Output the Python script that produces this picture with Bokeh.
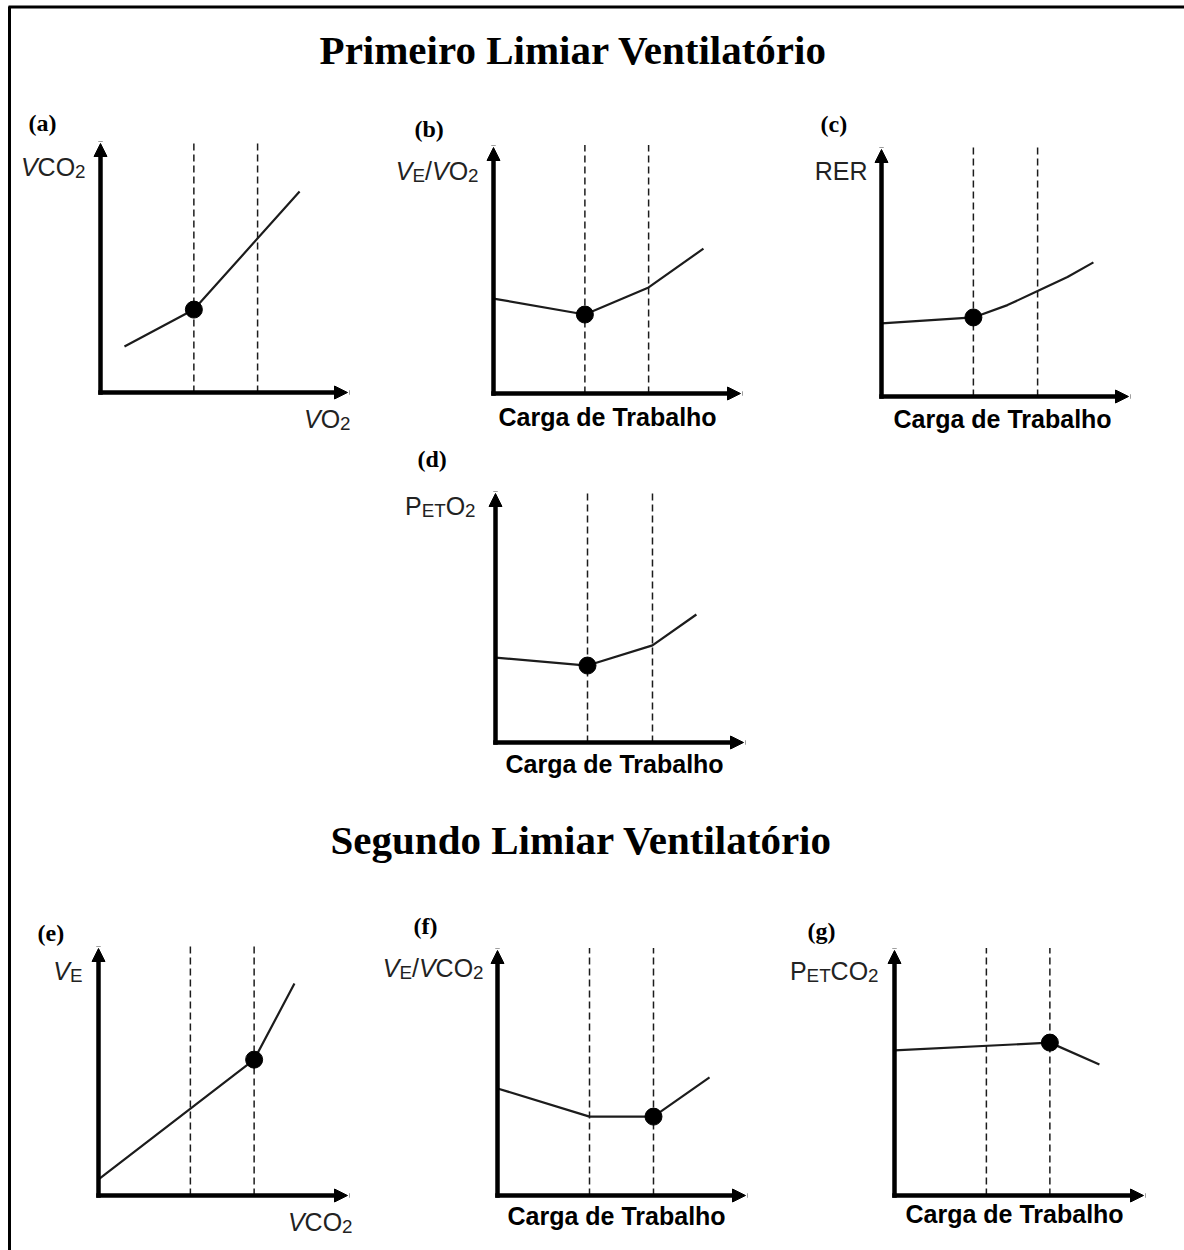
from bokeh.plotting import figure
from bokeh.models import Range1d, Arrow, NormalHead
from bokeh.core.properties import value
from bokeh.embed import file_html
from bokeh.resources import INLINE

# ---------------- data ----------------
titles = ["Primeiro Limiar Ventilatório", "Segundo Limiar Ventilatório"]
panel_ids = ["a", "b", "c", "d", "e", "f", "g"]
panel_tags = ["(a)", "(b)", "(c)", "(d)", "(e)", "(f)", "(g)"]
workload_label = "Carga de Trabalho"

# curves (axis units: each axis runs 0..10 up to the arrow tip)
a_x = [0.97, 3.78, 8.06]
a_y = [1.85, 3.33, 8.07]
b_x = [0.0, 3.70, 6.28, 8.50]
b_y = [3.86, 3.21, 4.31, 5.89]
c_x = [0.0, 1.86, 3.72, 5.10, 6.32, 7.53, 8.58]
c_y = [2.96, 3.08, 3.20, 3.70, 4.27, 4.84, 5.43]
d_x = [0.0, 3.71, 6.33, 8.10]
d_y = [3.41, 3.09, 3.90, 5.14]
e_x = [0.0, 6.25, 7.87]
e_y = [0.65, 5.50, 8.58]
f_x = [0.0, 3.71, 6.29, 8.55]
f_y = [4.37, 3.22, 3.22, 4.82]
g_x = [0.0, 6.24, 8.23]
g_y = [5.92, 6.24, 5.35]

# index of the highlighted (threshold) point in each curve
marker_index = {"a": 1, "b": 1, "c": 2, "d": 1, "e": 1, "f": 2, "g": 1}

# vertical dashed threshold lines (x in axis units)
a_thr = [3.78, 6.36]
b_thr = [3.70, 6.28]
c_thr = [3.72, 6.32]
d_thr = [3.71, 6.33]
e_thr = [3.69, 6.25]
f_thr = [3.71, 6.29]
g_thr = [3.69, 6.24]

curves = {"a": (a_x, a_y), "b": (b_x, b_y), "c": (c_x, c_y), "d": (d_x, d_y),
          "e": (e_x, e_y), "f": (f_x, f_y), "g": (g_x, g_y)}
thresholds = {"a": a_thr, "b": b_thr, "c": c_thr, "d": d_thr,
              "e": e_thr, "f": f_thr, "g": g_thr}

# axis label segments: (text, kind) kind: n normal, i italic, s subscript
y_labels = {
    "a": [("V", "i"), ("CO", "n"), ("2", "s")],
    "b": [("V", "i"), ("E", "s"), ("/", "n"), ("V", "i"), ("O", "n"), ("2", "s")],
    "c": [("RER", "n")],
    "d": [("P", "n"), ("ET", "s"), ("O", "n"), ("2", "s")],
    "e": [("V", "i"), ("E", "s")],
    "f": [("V", "i"), ("E", "s"), ("/", "n"), ("V", "i"), ("CO", "n"), ("2", "s")],
    "g": [("P", "n"), ("ET", "s"), ("CO", "n"), ("2", "s")],
}
x_labels = {
    "a": [("V", "i"), ("O", "n"), ("2", "s")],
    "e": [("V", "i"), ("CO", "n"), ("2", "s")],
}

# ---------------- layout (page pixels) ----------------
W, H = 1184, 1250
TDY = -12          # global vertical nudge for text baselines
AXIS_MAX = 10.0
DASH_TOP = 10.1

# corner x, corner y, x-axis length, y-axis length
geom = {
    "a": (100, 392, 247, 249),
    "b": (493, 393, 247, 246),
    "c": (881, 396, 247, 247),
    "d": (495, 742, 248, 249),
    "e": (98, 1195, 249, 247),
    "f": (497, 1195, 248, 245),
    "g": (894, 1195, 249, 245),
}
tag_pos = {"a": (28, 134), "b": (414, 140), "c": (820, 135), "d": (417, 470),
           "e": (37, 944), "f": (413, 937), "g": (807, 942)}
ylab_pos = {"a": (85, 178), "b": (478, 182), "c": (867, 182), "d": (475, 517),
            "e": (82, 982), "f": (483, 979), "g": (878, 982)}
xlab_pos = {"a": (350, 430), "b": (498, 428), "c": (893, 430), "d": (505, 775),
            "e": (352, 1233), "f": (507, 1227), "g": (905, 1225)}
title_pos = [(573, 61), (581, 851)]

INK = "#1c1c1c"
TXT = "#222222"

p = figure(width=W, height=H, x_range=Range1d(0, W), y_range=Range1d(H, 0),
           toolbar_location=None, output_backend="svg",
           x_axis_location=None, y_axis_location=None, min_border=0,
           outline_line_color=None, background_fill_color="white",
           border_fill_color="white")
p.grid.visible = False

# page frame (top and left rules)
p.segment(x0=[9, 8], y0=[6, 6.5], x1=[9, W], y1=[H, 6.5],
          line_color="black", line_width=3)

# titles
p.text(x=[t[0] for t in title_pos], y=[t[1] + TDY for t in title_pos],
       text=titles, text_font=value("Liberation Serif"), text_font_style="bold",
       text_font_size="41px", text_align="center", text_baseline="alphabetic",
       text_color="black")

ADV = {"V": 0.667, "C": 0.722, "O": 0.778, "E": 0.667, "T": 0.611,
       "P": 0.667, "R": 0.722, "/": 0.278, "2": 0.556}


def rich(segs, x, y, size, align):
    sub = 0.75 * size
    widths = [sum(ADV.get(ch, 0.6) for ch in t) * (sub if k == "s" else size)
              for t, k in segs]
    cx = x - sum(widths) if align == "right" else x
    for (t, k), w in zip(segs, widths):
        fs = sub if k == "s" else size
        dy = 0.2 * size if k == "s" else 0
        p.text(x=[cx], y=[y + dy + TDY], text=[t],
               text_font=value("Liberation Sans"),
               text_font_style="italic" if k == "i" else "normal",
               text_font_size=f"{fs:.1f}px", text_align="left",
               text_baseline="alphabetic", text_color=TXT)
        cx += w


for pid, tag in zip(panel_ids, panel_tags):
    cx, cy, lx, ly = geom[pid]
    ux, uy = lx / AXIS_MAX, ly / AXIS_MAX
    xr, yr = "x" + pid, "y" + pid
    p.extra_x_ranges[xr] = Range1d(-cx / ux, (W - cx) / ux)
    p.extra_y_ranges[yr] = Range1d((cy - H) / uy, cy / uy)

    thr = thresholds[pid]
    p.segment(x0=thr, y0=[0] * len(thr), x1=thr, y1=[DASH_TOP] * len(thr),
              line_color=INK, line_width=1.5, line_dash="7 4",
              x_range_name=xr, y_range_name=yr)

    xs, ys = curves[pid]
    p.line(xs, ys, line_color=INK, line_width=2.2, x_range_name=xr, y_range_name=yr)
    i = marker_index[pid]
    p.scatter([xs[i]], [ys[i]], size=17, fill_color="black", line_color="black",
              x_range_name=xr, y_range_name=yr)

    for (x1, y1) in [(AXIS_MAX, 0), (0, AXIS_MAX)]:
        p.add_layout(Arrow(x_start=0, y_start=0, x_end=x1, y_end=y1,
                           x_range_name=xr, y_range_name=yr,
                           line_color="black", line_width=4.5, line_cap="square",
                           end=NormalHead(size=13, fill_color="black",
                                          line_color="black", line_width=1)))

    tx, ty = tag_pos[pid]
    p.text(x=[tx], y=[ty + TDY], text=[tag], text_font=value("Liberation Serif"),
           text_font_style="bold", text_font_size="24px", text_align="left",
           text_baseline="alphabetic", text_color="black")

    yx, yy = ylab_pos[pid]
    rich(y_labels[pid], yx, yy, 25, "right")

    lx_, ly_ = xlab_pos[pid]
    if pid in x_labels:
        rich(x_labels[pid], lx_, ly_, 25, "right")
    else:
        p.text(x=[lx_], y=[ly_ + TDY], text=[workload_label],
               text_font=value("Liberation Sans"), text_font_style="bold",
               text_font_size="25px", text_align="left", text_baseline="alphabetic",
               text_color="black")

open("out.html", "w").write(file_html(p, INLINE))
